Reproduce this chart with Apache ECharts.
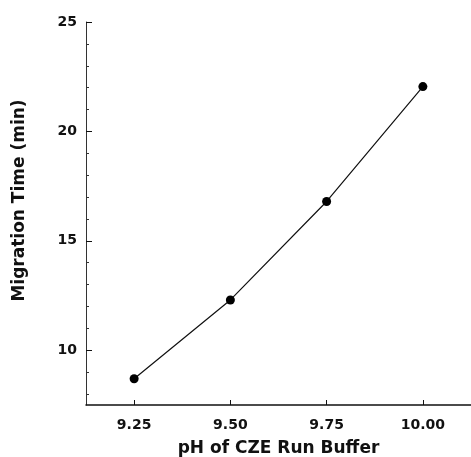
<!DOCTYPE html>
<html>
<head>
<meta charset="utf-8">
<script src="https://cdn.jsdelivr.net/npm/echarts@6/dist/echarts.min.js"></script>
<style>
html, body { margin: 0; padding: 0; background: #fff; }
#chart { width: 471px; height: 457px; }
</style>
</head>
<body>
<div id="chart"></div>
<script>
// data
var phValues = [9.25, 9.50, 9.75, 10.00];
var migrationTimes = [8.7, 12.3, 16.8, 22.05];
var xTicks = [9.25, 9.50, 9.75, 10.00];
var yMajorTicks = [10, 15, 20, 25];
var yMinorTicks = [8, 9, 11, 12, 13, 14, 16, 17, 18, 19, 21, 22, 23, 24];

var points = phValues.map(function (p, i) { return [p, migrationTimes[i]]; });

var font = 'DejaVu Sans, sans-serif';
var myChart = echarts.init(document.getElementById('chart'));
var option = {
	animation: false,
	backgroundColor: '#fff',
	grid: {
		left: 86,
		right: 0,
		top: 22,
		bottom: 52,
		containLabel: false,
		outerBoundsMode: 'none'
	},
	xAxis: {
		type: 'value',
		min: 9.125,
		max: 10.125,
		name: 'pH of CZE Run Buffer',
		nameLocation: 'middle',
		nameGap: 35,
		nameTextStyle: { fontFamily: font, fontWeight: 'bold', fontSize: 17, color: '#111' },
		axisLine: { lineStyle: { color: '#111', width: 1.5 } },
		axisTick: { inside: true, length: 5, customValues: xTicks, lineStyle: { color: '#111' } },
		axisLabel: {
			customValues: xTicks,
			margin: 13,
			fontFamily: font, fontWeight: 'bold', fontSize: 14, color: '#111',
			formatter: function (v) { return v.toFixed(2); }
		},
		splitLine: { show: false }
	},
	yAxis: [{
		type: 'value',
		min: 7.5,
		max: 25,
		name: 'Migration Time (min)',
		nameLocation: 'middle',
		nameGap: 58,
		nameTextStyle: { fontFamily: font, fontWeight: 'bold', fontSize: 17, color: '#111', padding: [0, 0, 0, 26] },
		axisLine: { show: true, lineStyle: { color: '#333', width: 1 } },
		axisTick: { inside: true, length: 6, customValues: yMajorTicks, lineStyle: { color: '#111' } },
		axisLabel: {
			customValues: yMajorTicks,
			margin: 9,
			fontFamily: font, fontWeight: 'bold', fontSize: 14, color: '#111'
		},
		splitLine: { show: false }
	}, {
		type: 'value',
		min: 7.5,
		max: 25,
		position: 'left',
		axisLine: { show: false },
		axisTick: { inside: true, length: 3, customValues: yMinorTicks, lineStyle: { color: '#333' } },
		axisLabel: { show: false },
		splitLine: { show: false }
	}],
	series: [{
		type: 'line',
		data: points,
		symbol: 'circle',
		symbolSize: 9,
		itemStyle: { color: '#000' },
		lineStyle: { color: '#111', width: 1.2 }
	}]
};
myChart.setOption(option);
window.onresize = function () {
	myChart.resize();
};
</script>
</body>
</html>
